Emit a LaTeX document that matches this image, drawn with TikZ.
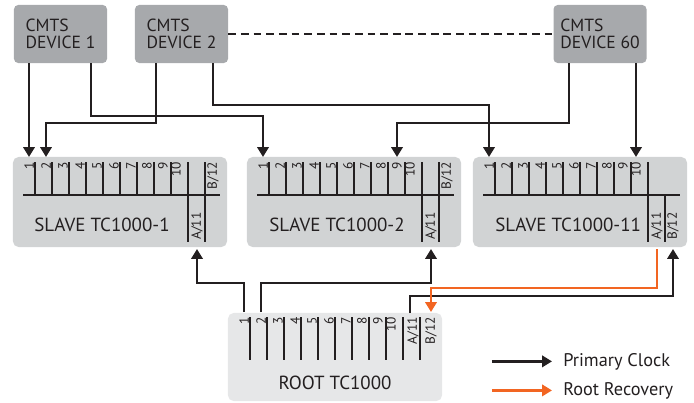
\documentclass[tikz,border=0pt]{standalone}
\usepackage{fontspec}
\setmainfont{PT Sans}
\usetikzlibrary{arrows.meta}

\definecolor{devgray}{HTML}{A7A9AC}
\definecolor{slavegray}{HTML}{D1D3D4}
\definecolor{rootgray}{HTML}{E6E7E8}
\definecolor{ink}{HTML}{231F20}
\definecolor{rootorange}{HTML}{F26522}

% port numbers 1..10 and their short column lines
\newcommand{\portrow}[4]{%
  \foreach \k/\lx in {1/16,2/33,3/50,4/67,5/84,6/101,7/118,8/134,9/150,10/163} {
    \node[portlbl] (#1-l\k) at (#2+\lx,#3) {\k};
    \coordinate (#1-\k) at (#2+\lx,#3-5);
  }
  \foreach \k in {0,...,8}
    \draw[portline] (#2+22+17*\k,#3) -- ++(0,#4);
}
% slave: bar, A/11 and B/12 columns
\newcommand{\slavecols}[3]{%
  \draw[portline] (#2+10,195) -- (#2+207,195);
  \draw[portline] (#2+175,162) -- (#2+175,242);
  \draw[portline] (#2+192,#3) -- (#2+192,242);
  \node[portlbl, anchor=west] (#1-lA) at (#2+184,240) {A/11};
  \coordinate (#1-A) at (#2+184,249);
  \coordinate (#1-B) at (#2+200,249);
}

\begin{document}
\begin{tikzpicture}[x=0.025cm, y=-0.025cm,
    devbox/.style={rectangle, fill=devgray, rounded corners=3pt, minimum width=2.325cm, minimum height=1.45cm, align=left, text=ink, font=\fontsize{12.5}{12}\selectfont},
    slavebox/.style={rectangle, fill=slavegray, rounded corners=4pt, minimum width=5.35cm, minimum height=2.25cm},
    rootbox/.style={slavebox, fill=rootgray, minimum height=2.2cm},
    boxtitle/.style={text=ink, font=\fontsize{13.5}{13.5}\selectfont, inner sep=0pt},
    portlbl/.style={rotate=90, anchor=east, inner sep=0pt, text=ink, font=\fontsize{9.5}{9.5}\selectfont},
    portline/.style={draw=ink, line width=0.9pt},
    wire/.style={draw=ink, line width=2pt, -{Triangle[width=8pt,length=7pt]}},
    recwire/.style={wire, draw=rootorange},
    dashline/.style={draw=ink, line width=1.7pt, dash pattern=on 5.5pt off 3.5pt},
    legendtxt/.style={anchor=base west, inner xsep=0.275cm, inner ysep=0pt, text=ink, font=\fontsize{13}{13}\selectfont},
]
\useasboundingbox (0,0) rectangle (694,402);

% CMTS devices
\node[devbox] (dev1) at (60.5,34) {CMTS\\DEVICE 1};
\node[devbox] (dev2) at (181.5,34) {CMTS\\DEVICE 2};
\node[devbox] (dev60) at (600,34) {CMTS\\DEVICE 60};
\draw[dashline] (dev2) -- (dev60);

% TC1000 units
\node[slavebox] (slave1) at (120,202) {};
\node[slavebox] (slave2) at (354,202) {};
\node[slavebox] (slave3) at (580,202) {};
\node[rootbox] (root) at (335,357) {};

\portrow{s1}{13}{162}{33}
\portrow{s2}{247}{162}{33}
\portrow{s3}{473}{162}{33}
\portrow{r}{228}{317}{43}
\slavecols{s1}{13}{162}
\slavecols{s2}{247}{162}
\slavecols{s3}{473}{195}

\node[portlbl] (s1-lB) at (213,162) {B/12};
\node[portlbl] (s2-lB) at (447,162) {B/12};
\node[portlbl, anchor=west] (s3-lB) at (673,240) {B/12};

\node[boxtitle, anchor=west] (s1title) at (34,225) {SLAVE TC1000-1};
\node[boxtitle, anchor=west] (s2title) at (269,225) {SLAVE TC1000-2};
\node[boxtitle, anchor=west] (s3title) at (495,225) {SLAVE TC1000-11};

% root columns
\foreach \cx in {403,420}
  \draw[portline] (\cx,317) -- ++(0,43);
\node[portlbl] (r-lA) at (413,317) {A/11};
\node[portlbl] (r-lB) at (431,317) {B/12};
\coordinate (r-A) at (410,313);
\coordinate (r-B) at (431,312);
\node[boxtitle] (roottitle) at (335,383) {ROOT TC1000};

% primary clock wires
\coordinate (d1b) at (91,63);
\coordinate (d2a) at (156,63);
\coordinate (d2b) at (213,63);
\coordinate (d60a) at (569,63);
\draw[wire] (dev1.south -| s1-1) -- (s1-1);
\draw[wire] (d1b) -- ++(0,53) -| (s2-1);
\draw[wire] (d2a) -- ++(0,60) -| (s1-2);
\draw[wire] (d2b) -- ++(0,42) -| (s3-1);
\draw[wire] (d60a) -- ++(0,60) -| (s2-9);
\draw[wire] (dev60.south -| s3-10) -- (s3-10);

\draw[wire] (r-1) -- ++(0,-29) -| (s1-A);
\draw[wire] (r-2) -- ++(0,-29) -| (s2-A);
\draw[wire] (r-A) -- ++(0,-17) -| (s3-B);
% recovery
\draw[recwire] (s3-A) -- ++(0,39) -| (r-B);

% legend
\node[legendtxt] (primtxt) at (552,366) {Primary Clock};
\node[legendtxt] (rectxt) at (552,395) {Root Recovery};
\coordinate (primstart) at ([xshift=-1.5cm]primtxt.west);
\coordinate (recstart) at ([xshift=-1.5cm]rectxt.west);
\draw[wire] (primstart) -- (primtxt.west);
\draw[recwire] (recstart) -- (rectxt.west);
\end{tikzpicture}
\end{document}
